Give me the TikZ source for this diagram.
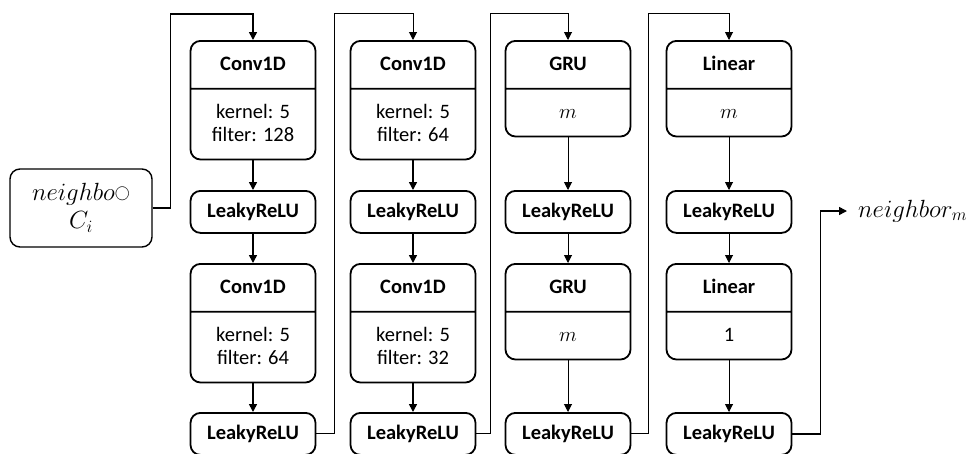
\documentclass[tikz,border=0pt]{standalone}
\usepackage{fontspec}
\setsansfont{Carlito}
\usetikzlibrary{positioning,shapes.multipart,arrows.meta,calc}

\newcommand{\laystrut}{\rule[-6pt]{0pt}{23pt}}

\begin{document}
\begin{tikzpicture}[x=1pt, y=-1pt, >={Triangle[length=8pt,width=8pt]},
      every node/.style={font=\sffamily\fontsize{20.5}{23}\selectfont},
      layer/.style={draw, line width=1.8pt, rounded corners=10pt,
        rectangle split, rectangle split parts=2, minimum width=125pt,
        inner ysep=11.5pt, align=center, anchor=north},
      act/.style={draw, line width=1.8pt, rounded corners=10pt,
        minimum width=125pt, inner ysep=9.5pt, anchor=north},
      thick link/.style={->, line width=1.5pt},
      thin link/.style={->, line width=1pt}
  ]
    \useasboundingbox (0,0) rectangle (966,453);

    % input
    \node[draw, line width=1.4pt, rounded corners=10pt, minimum width=142pt,
          minimum height=78pt, align=center, font=\fontsize{24}{28}\selectfont]
          (in) at (81,208)
          {$neighbo$\raisebox{3.5pt}{\scalebox{0.6}{$\bigcirc$}}\\$C_i$};

    % column 1
    \node[layer] (conv1) at (253,40)
          {\textbf{Conv1D}\laystrut\nodepart{two}kernel: 5\laystrut\\filter: 128\laystrut};
    \node[act] (leaky1) at (253,190) {\textbf{LeakyReLU}\laystrut};
    \node[layer] (conv2) at (253,263)
          {\textbf{Conv1D}\laystrut\nodepart{two}kernel: 5\laystrut\\filter: 64\laystrut};
    \node[act] (leaky2) at (253,412) {\textbf{LeakyReLU}\laystrut};

    % column 2
    \node[layer] (conv3) at (413,40)
          {\textbf{Conv1D}\laystrut\nodepart{two}kernel: 5\laystrut\\filter: 64\laystrut};
    \node[act] (leaky3) at (413,190) {\textbf{LeakyReLU}\laystrut};
    \node[layer] (conv4) at (413,263)
          {\textbf{Conv1D}\laystrut\nodepart{two}kernel: 5\laystrut\\filter: 32\laystrut};
    \node[act] (leaky4) at (413,412) {\textbf{LeakyReLU}\laystrut};

    % column 3
    \node[layer] (gru1) at (568,40) {\textbf{GRU}\laystrut\nodepart{two}$m$\laystrut};
    \node[act] (leaky5) at (568,190) {\textbf{LeakyReLU}\laystrut};
    \node[layer] (gru2) at (568,263) {\textbf{GRU}\laystrut\nodepart{two}$m$\laystrut};
    \node[act] (leaky6) at (568,412) {\textbf{LeakyReLU}\laystrut};

    % column 4
    \node[layer] (lin1) at (729,40) {\textbf{Linear}\laystrut\nodepart{two}$m$\laystrut};
    \node[act] (leaky7) at (729,190) {\textbf{LeakyReLU}\laystrut};
    \node[layer] (lin2) at (729,263) {\textbf{Linear}\laystrut\nodepart{two}1\laystrut};
    \node[act] (leaky8) at (729,412) {\textbf{LeakyReLU}\laystrut};

    % output
    \node[anchor=west, inner xsep=11pt, font=\fontsize{23}{28}\selectfont]
          (out) at (847,211) {$neighbor_m$};

    \path[thick link]
      (conv1) edge (leaky1)
      (leaky1) edge (conv2)
      (conv2) edge (leaky2)
      (conv3) edge (leaky3)
      (leaky3) edge (conv4)
      (conv4) edge (leaky4);
    \path[thin link]
      (gru1) edge (leaky5)
      (leaky5) edge (gru2)
      (gru2) edge (leaky6)
      (lin1) edge (leaky7)
      (leaky7) edge (lin2)
      (lin2) edge (leaky8);

    \draw[thick link] (in.east) -- ++(18,0) |- ([yshift=26pt]conv1.north) -- (conv1.north);
    \draw[->, line width=1pt] (leaky2.east) -- ++(18,0) |- ([yshift=27pt]conv3.north) -- (conv3.north);
    \draw[->, line width=1pt] (leaky4.east) -- ++(14,0) |- ([yshift=27pt]gru1.north) -- (gru1.north);
    \draw[->, line width=1pt] (leaky6.east) -- ++(17,0) |- ([yshift=27pt]lin1.north) -- (lin1.north);
    \draw[thick link] (leaky8.east) -- ++(28,0) |- (out.west);
\end{tikzpicture}
\end{document}
